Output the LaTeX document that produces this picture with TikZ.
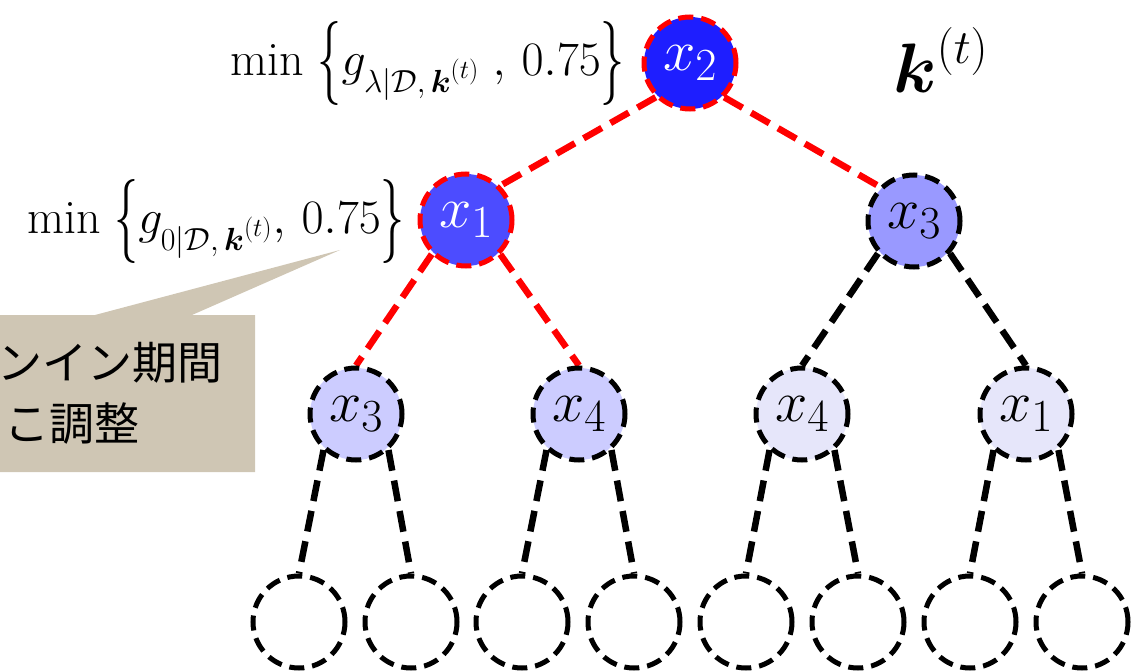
\RequirePackage{fix-cm}
\documentclass[tikz,border=0pt]{standalone}
\usepackage{amsmath}
\usepackage{graphicx}
\usepackage{fontspec}
\newfontfamily\jpfont{Noto Sans CJK JP}
\usetikzlibrary{backgrounds}
\newcommand{\szbox}[2]{\mbox{\fontsize{#1}{#1}\selectfont$#2$}}
\newcommand{\lbrc}{\mathopen{\vcenter{\hbox{\scalebox{1}[1.75]{$\{$}}}}}
\newcommand{\rbrc}{\mathclose{\vcenter{\hbox{\scalebox{1}[1.75]{$\}$}}}}}
\definecolor{cRoot}{RGB}{30,30,255}
\definecolor{cOne}{RGB}{76,76,255}
\definecolor{cThree}{RGB}{153,153,255}
\definecolor{cLeft}{RGB}{204,204,255}
\definecolor{cRight}{RGB}{230,230,250}
\definecolor{cTan}{RGB}{207,198,180}
\tikzset{
  treenode/.style={circle, minimum size=92pt, inner sep=0pt, line width=5pt,
    dash pattern=on 15pt off 8pt, font=\fontsize{58}{62}\selectfont},
  blknode/.style={treenode, draw=black},
  rednode/.style={treenode, draw=red, text=white},
  edgeline/.style={line width=6.5pt, dash pattern=on 21pt off 10pt},
  redge/.style={edgeline, draw=red},
  bedge/.style={edgeline, draw=black},
  lbl/.style={font=\fontsize{48}{56}\selectfont, inner sep=0pt},
  jptext/.style={font=\fontsize{45}{54}\selectfont\jpfont, inner sep=0pt},
}
\begin{document}
\begin{tikzpicture}[x=1pt, y=-1pt]
\useasboundingbox (0,0) rectangle (1133,671);
% callout
\coordinate (tip) at (340,250);
\fill[cTan] (-10,315) -- (95,315) -- (tip) -- (192,315) -- (255,315) -- (255,472) -- (-10,472) -- cycle;
\node[jptext, anchor=east] (cl1) at (223,363) {ンイン期間};
\node[jptext, anchor=east] (cl2) at (140,424) {こ調整};
% tree nodes
\node[rednode, fill=cRoot] (r) at (690,63) {$x_{\szbox{46}{2}}$};
\node[rednode, fill=cOne] (a) at (466,220) {$x_{\szbox{46}{1}}$};
\node[blknode, fill=cThree] (b) at (914,221) {$x_{\szbox{46}{3}}$};
\node[blknode, fill=cLeft] (c1) at (356,414) {$x_{\szbox{46}{3}}$};
\node[blknode, fill=cLeft] (c2) at (579,414) {$x_{\szbox{46}{4}}$};
\node[blknode, fill=cRight] (c3) at (802,414) {$x_{\szbox{46}{4}}$};
\node[blknode, fill=cRight] (c4) at (1026,414) {$x_{\szbox{46}{1}}$};
\foreach \i/\x in {1/299,2/411,3/522,4/634,5/746,6/858,7/970,8/1082}
  \node[blknode, fill=white] (d\i) at (\x,622) {};
% edges
\begin{scope}[on background layer]
\draw[redge] (r.south west) -- (a.north east);
\draw[redge] (r.south east) -- (b.north west);
\draw[redge] (a.south west) -- (c1.north);
\draw[redge] (a.south east) -- (c2.north);
\draw[bedge] (b.-138) -- (c3.north);
\draw[bedge] (b.-42) -- (c4.north);
\draw[bedge] (c1.-132) -- (d1.north);
\draw[bedge] (c1.-48) -- (d2.north);
\draw[bedge] (c2.-132) -- (d3.north);
\draw[bedge] (c2.-48) -- (d4.north);
\draw[bedge] (c3.-132) -- (d5.north);
\draw[bedge] (c3.-48) -- (d6.north);
\draw[bedge] (c4.-132) -- (d7.north);
\draw[bedge] (c4.-48) -- (d8.north);
\end{scope}
% labels
\node[lbl, anchor=base east] (lr) at (625,76) {$\min\;\lbrc g_{\szbox{32}{\lambda|\mathcal{D},\boldsymbol{k}^{\szbox{26}{(t)}}}}\;,\,0.75\rbrc$};
\node[lbl, anchor=base east] (la) at (405,234) {$\min\;\lbrc g_{\szbox{32}{0|\mathcal{D},\boldsymbol{k}^{\szbox{26}{(t)}}}},\,0.75\rbrc$};
\node[inner sep=0pt, anchor=base west, font=\fontsize{70}{80}\selectfont] (kt) at (893,93) {$\boldsymbol{k}^{\szbox{48}{(t)}}$};
\end{tikzpicture}
\end{document}
